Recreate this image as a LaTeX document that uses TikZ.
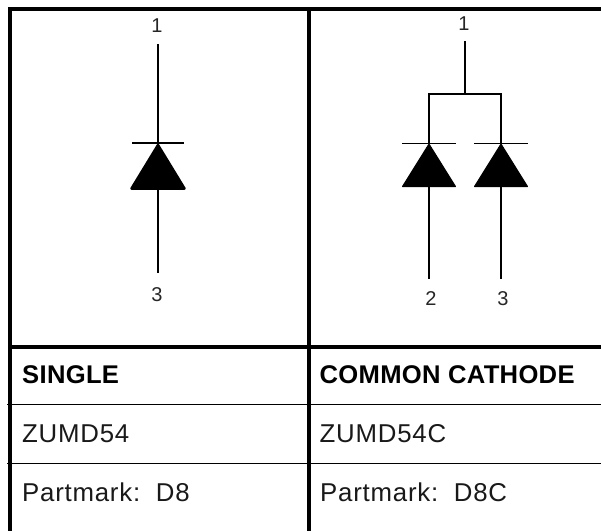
\documentclass[tikz,border=0pt]{standalone}
\usepackage{fontspec}
\setmainfont{Liberation Sans}
\newfontfamily\cellfont[LetterSpace=3]{Liberation Sans}
\newfontfamily\headfont[LetterSpace=1.2]{Liberation Sans}
\tikzset{
  thickrule/.style={line width=4pt,black},
  thinrule/.style={line width=1pt,black},
  wire/.style={line width=1.7pt,black},
  pin/.style={inner sep=0pt,font=\fontsize{20}{20}\selectfont,text=black!85},
  head/.style={anchor=base west,inner sep=0pt,font=\fontsize{25.6}{26}\headfont\bfseries},
  cell/.style={anchor=base west,inner sep=0pt,font=\fontsize{25.8}{26}\cellfont,text=black!90},
  diodehead/.style={fill=black,draw=black,line width=1pt,line join=round}
}
\begin{document}
\begin{tikzpicture}[x=1pt,y=-1pt]
\useasboundingbox[fill=white] (0,0) rectangle (601,531);
% table rules
\draw[thickrule] (8,9) -- (601,9);
\draw[thickrule] (8,347) -- (601,347);
\draw[thinrule] (7,404) -- (601,404);
\draw[thinrule] (7,463) -- (601,463);
\draw[thickrule] (10,7) -- (10,531);
\draw[thickrule] (309,7) -- (309,531);
% left diode
\coordinate (aTop) at (158,44);
\coordinate (aApex) at (158,143);
\coordinate (aBase) at (158,189);
\coordinate (aEnd) at (158,273);
\draw[wire] (aTop) -- (aApex);
\draw[wire] (132,143) -- (184,143);
\draw[diodehead,line width=2.5pt] (158,145) -- (131.5,188.5) -- (184.5,188.5) -- cycle;
\draw[wire] (aBase) -- (aEnd);
\node[pin] (p1) at (157,26) {1};
\node[pin] (p3) at (157,295) {3};
% right diodes
\coordinate (bTop) at (465.3,41);
\coordinate (bJoin) at (465.3,94);
\coordinate (bL) at (429,94);
\coordinate (bR) at (501,94);
\coordinate (bLA) at (429,143.5);
\coordinate (bRA) at (501,143.5);
\coordinate (bLE) at (429,279);
\coordinate (bRE) at (501,279);
\draw[wire] (bTop) -- (bJoin);
\draw[wire,line cap=rect] (bLA) -- (bL) -- (bR) -- (bRA);
\draw[wire] (402,143.5) -- (456,143.5);
\draw[wire] (474,143.5) -- (528,143.5);
\draw[diodehead] (429,144) -- (402.5,186.5) -- (455.5,186.5) -- cycle;
\draw[diodehead] (501,144) -- (474.5,186.5) -- (527.5,186.5) -- cycle;
\draw[wire] (429,186) -- (bLE);
\draw[wire] (501,186) -- (bRE);
\node[pin] (q1) at (464,24) {1};
\node[pin] (q2) at (431,299) {2};
\node[pin] (q3) at (503,299) {3};
% text
\node[head] (h1) at (22,383) {SINGLE};
\node[head] (h2) at (319.5,383) {COMMON CATHODE};
\node[cell] (c1) at (22,442) {ZUMD54};
\node[cell] (c2) at (319.5,442) {ZUMD54C};
\node[cell] (d1) at (22,501.5) {Partmark:\hspace{0.2em} D8};
\node[cell] (d2) at (320,501.5) {Partmark:\hspace{0.2em} D8C};
\end{tikzpicture}
\end{document}
